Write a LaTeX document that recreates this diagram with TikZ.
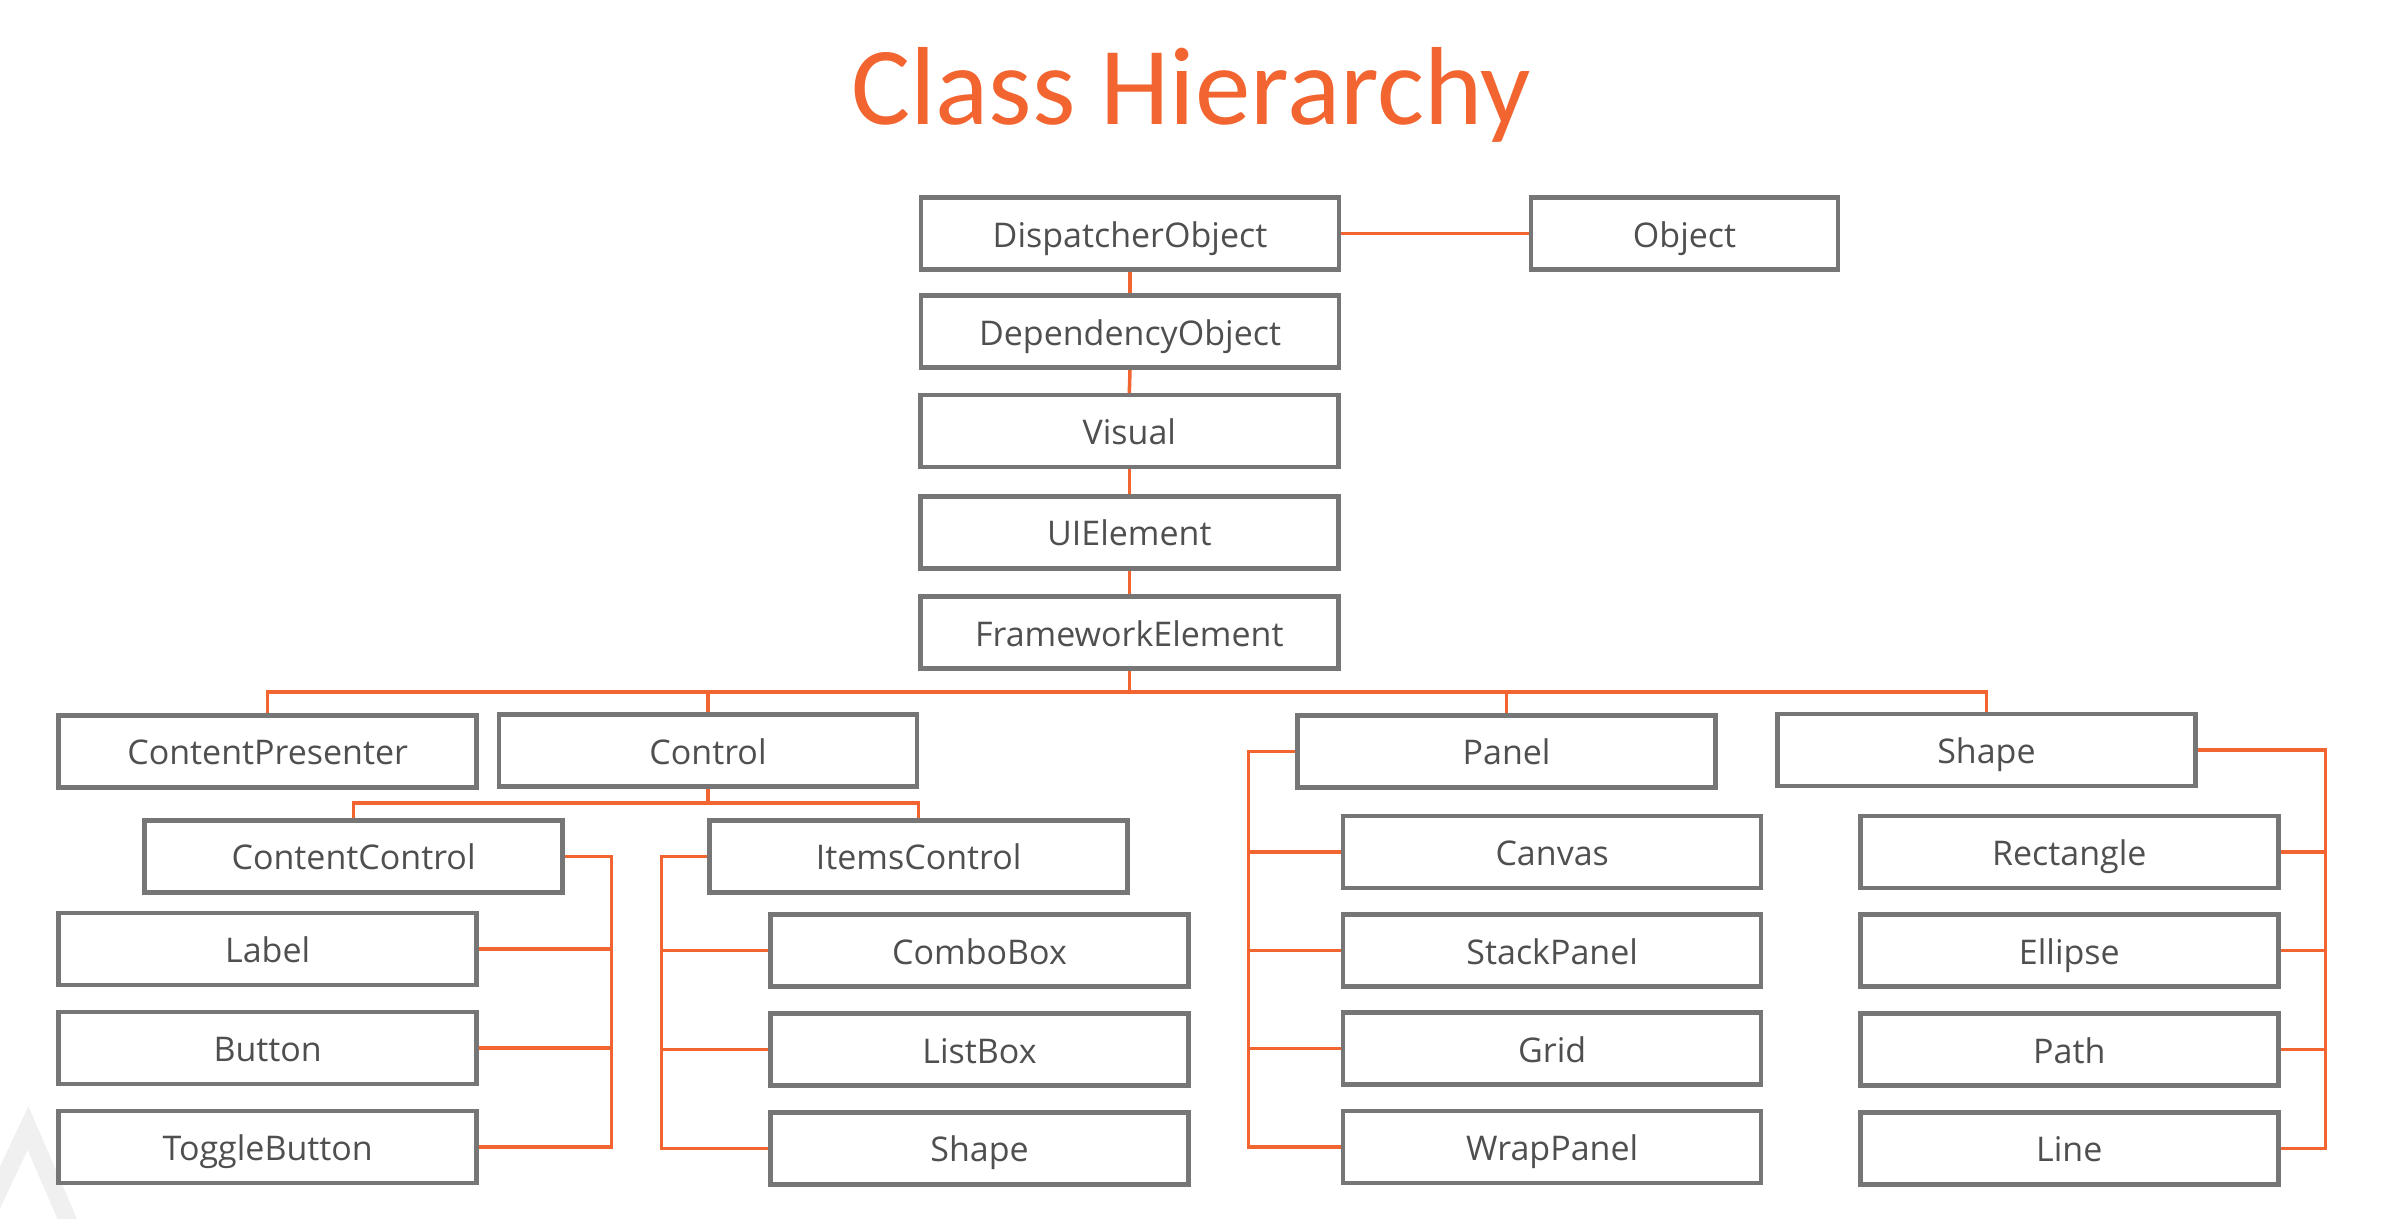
\documentclass[tikz,border=0pt]{standalone}
\usepackage{fontspec}
\setmainfont{Open Sans}
\newfontfamily\titlefont{Carlito}
\usetikzlibrary{backgrounds}
\definecolor{hier}{HTML}{F26531}
\definecolor{boxgray}{HTML}{767676}
\definecolor{txtgray}{HTML}{4F4F4F}
\begin{document}
\begin{tikzpicture}[x=1pt, y=-1pt,
            cls/.style = {draw=boxgray, line width=4.5pt, minimum width=418pt, minimum height=72pt,
                          inner sep=0pt, text=txtgray, text height=35pt, text depth=8pt,
                          font=\fontsize{34}{41}\selectfont},
            link/.style = {draw=hier, line width=3.5pt}]
                \useasboundingbox (0,0) rectangle (2384,1218);
                % faint logo in the corner
                \draw[gray!12, line width=18pt, line join=miter] (-20,1230) -- (28,1128) -- (72,1230);

                \node[text=hier, anchor=base, font=\titlefont\fontsize{111}{126}\selectfont] (title) at (1191,124) {Class Hierarchy};

                \node[cls] (disp) at (1130,233.5) {DispatcherObject};
                \node[cls, minimum width=307pt] (obj) at (1684.5,233.5) {Object};
                \node[cls] (dep) at (1130,331.6) {DependencyObject};
                \node[cls] (vis) at (1129.3,431.2) {Visual};
                \node[cls] (uie) at (1129.3,532.4) {UIElement};
                \node[cls] (fe) at (1129.3,632.7) {FrameworkElement};

                \node[cls] (cp) at (267.7,751.4) {ContentPresenter};
                \node[cls] (ctl) at (708,750.6) {Control};
                \node[cls] (pnl) at (1506.6,751.4) {Panel};
                \node[cls] (shp) at (1986.4,749.9) {Shape};

                \node[cls] (cc) at (353.6,856.3) {ContentControl};
                \node[cls] (ic) at (918.7,856.3) {ItemsControl};
                \node[cls] (lbl) at (267.7,949) {Label};
                \node[cls] (btn) at (267.7,1048) {Button};
                \node[cls] (tbtn) at (267.7,1146.8) {ToggleButton};
                \node[cls] (cbx) at (979.5,950.6) {ComboBox};
                \node[cls] (lbx) at (979.5,1049.5) {ListBox};
                \node[cls] (ishp) at (979.5,1148.4) {Shape};

                \node[cls] (canv) at (1552.2,851.8) {Canvas};
                \node[cls] (stk) at (1552.2,950.6) {StackPanel};
                \node[cls] (grd) at (1552.2,1048.7) {Grid};
                \node[cls] (wrap) at (1552.2,1146.8) {WrapPanel};
                \node[cls] (rect) at (2069.3,851.8) {Rectangle};
                \node[cls] (ell) at (2069.3,950.6) {Ellipse};
                \node[cls] (pth) at (2069.3,1049.5) {Path};
                \node[cls] (ln) at (2069.3,1148.4) {Line};

                \coordinate (febus) at (1129.3,692);
                \coordinate (ctlbus) at (708,803);
                \coordinate (ccx) at (611.4,0);
                \coordinate (icx) at (661.6,0);
                \coordinate (pnlx) at (1248.7,0);
                \coordinate (shpx) at (2325.6,0);

                \begin{scope}[on background layer]
                \draw[link] (disp.east) -- (obj.west);
                \draw[link] (disp.south) -- (dep.north);
                \draw[link] (dep.south) -- (vis.north);
                \draw[link] (vis.south) -- (uie.north);
                \draw[link] (uie.south) -- (fe.north);

                \draw[link] (fe.south) -- (febus);
                \draw[link] (cp.north) |- (febus) -| (shp.north);
                \draw[link] (ctl.north) -- (ctl.north |- febus);
                \draw[link] (pnl.north) -- (pnl.north |- febus);

                \draw[link] (ctl.south) -- (ctlbus);
                \draw[link] (cc.north) |- (ctlbus) -| (ic.north);

                \draw[link] (cc.east) -| (tbtn.east -| ccx) -- (tbtn.east);
                \foreach \n in {lbl,btn}
                    \draw[link] (\n.east) -- (\n.east -| ccx);
                \draw[link] (ic.west) -| (ishp.west -| icx) -- (ishp.west);
                \foreach \n in {cbx,lbx}
                    \draw[link] (\n.west) -- (\n.west -| icx);
                \draw[link] (pnl.west) -| (wrap.west -| pnlx) -- (wrap.west);
                \foreach \n in {canv,stk,grd}
                    \draw[link] (\n.west) -- (\n.west -| pnlx);
                \draw[link] (shp.east) -| (ln.east -| shpx) -- (ln.east);
                \foreach \n in {rect,ell,pth}
                    \draw[link] (\n.east) -- (\n.east -| shpx);
                \end{scope}
        \end{tikzpicture}
\end{document}
